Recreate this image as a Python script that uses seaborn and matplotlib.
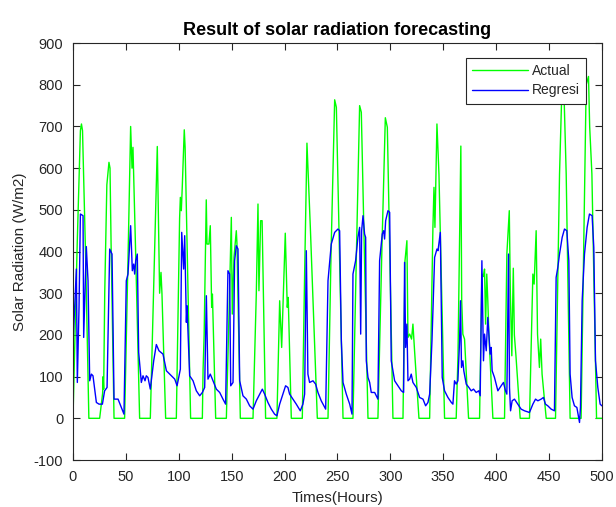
import matplotlib
matplotlib.use('Agg')
import matplotlib.pyplot as plt
import pandas as pd
import seaborn as sns

# Actual (green) - vertices: hour, W/m2
actual_hours = [0, 4, 7, 8, 9, 12, 15,
                25.2, 28, 28.5, 29, 30, 32, 34, 35, 36, 38.8,
                48.8, 52, 54.5, 55.8, 56.7, 59.2, 63,
                73.1, 77, 79.7, 81.3, 81.9, 83.2, 84.1, 87.6,
                97.7, 100.8, 101.5, 102.4, 103.3, 105.2, 106, 111.2,
                122.3, 123, 124, 126, 126.7, 128.5, 129.8, 131.1, 131.8, 134.9,
                145, 148, 149.7, 150.6, 152.2, 154.4, 155, 158.2,
                170.2, 172.7, 173.3, 174.9, 175.8, 177.4, 178.8, 182.1,
                192.8, 195.4, 197.3, 200.7, 202.6, 203.5, 206.4,
                216.8, 219, 221.2, 224.4, 231,
                241.1, 244, 247.4, 249, 255.3,
                264.7, 268, 271, 272.6, 278.9,
                288.3, 292, 295.3, 297.2, 302.5,
                312, 313.9, 315.7, 316.7, 318.3, 320.1, 321.4, 323, 327.1,
                337.2, 340.3, 341.3, 342.2, 344.1, 346, 351.3,
                362.3, 364, 366.7, 367.5, 368.6, 370.2, 374,
                384.4, 386.6, 388, 389.1, 390.1, 391.2, 392.2, 393.2, 394.4, 397,
                408, 410.2, 412.5, 413.5, 414.9, 416.3, 417.3, 418.8, 422.8,
                431.6, 434.8, 436, 437.9, 439.2, 441, 442.2, 443.5, 447.4,
                456.2, 460, 462.2, 464, 466.3, 470,
                480.4, 485.2, 487.4, 488.5, 490.6, 495, 500]
actual_values = [0, 420, 690, 706, 690, 380, 0,
                 0, 60, 100, 70, 300, 560, 614, 600, 420, 0,
                 0, 380, 700, 600, 650, 400, 0,
                 0, 380, 652, 400, 300, 350, 300, 0,
                 0, 480, 530, 498, 554, 692, 650, 0,
                 0, 118, 200, 524, 418, 418, 462, 266, 298, 0,
                 0, 300, 482, 250, 386, 450, 420, 0,
                 0, 242, 298, 514, 306, 474, 474, 0,
                 0, 282, 170, 444, 266, 290, 0,
                 0, 346, 660, 458, 0,
                 0, 400, 764, 746, 0,
                 0, 400, 750, 734, 0,
                 0, 400, 721, 698, 0,
                 0, 378, 426, 194, 202, 190, 226, 160, 0,
                 0, 458, 554, 458, 706, 586, 0,
                 0, 150, 653, 283, 202, 190, 0,
                 0, 346, 340, 358, 226, 346, 282, 202, 138, 0,
                 0, 394, 498, 300, 150, 360, 200, 150, 0,
                 0, 346, 322, 450, 202, 122, 190, 106, 0,
                 0, 586, 786, 800, 586, 0,
                 0, 800, 820, 700, 586, 0, 0]

# Regresi (blue)
regresi_hours = [0, 3.2, 4.1, 5.7, 7, 9.5, 10.1, 12.6, 14.2, 15.8, 17.4, 18.9, 22.1, 24.6,
                 27.8, 29.9, 32.2, 34.7, 36.9, 38.8, 42.6, 45.7, 48.2, 50.4, 52, 54.5, 56.1,
                 57.4, 58.3, 59.3, 60.8, 62.1, 64.6, 66.2, 68.1, 69.3, 70.9, 73.1, 76.3, 78.8,
                 81.3, 85.1, 88.3, 93, 96.2, 98.4, 101.5, 102.8, 104.6, 105.6, 107.2, 107.8,
                 110.3, 113.5, 116.6, 119.8, 122.3, 124.5, 126.1, 127.6, 129.8, 132.4, 135.5,
                 138.7, 141.8, 144.3, 146.5, 148.1, 149.1, 151.3, 152.8, 154.4, 156, 157.6,
                 160.7, 163.9, 167, 170.2, 173.3, 176.5, 179, 181.2, 184.3, 187.5, 190.6,
                 192.8, 195.4, 198.5, 201, 203.2, 204.8, 208, 211.1, 214.9, 217.4, 219,
                 220.6, 222.1, 223.7, 226.9, 229.4, 231.6, 234.7, 238.9, 241.1, 244.2, 247.4,
                 250.5, 252.1, 253.7, 255.3, 258.4, 261.6, 263.8, 264.7, 267.2, 269.4, 271,
                 272, 272.9, 274.2, 275.7, 276.7, 277.3, 278.9, 280.5, 282, 285.2, 288.3,
                 289.9, 292.4, 293.7, 294.6, 295.6, 297.8, 299.4, 300.9, 304.1, 307.2, 310.4,
                 312.6, 313.5, 314.5, 315.7, 316.7, 318.3, 319.8, 321.4, 324.6, 327.7, 330.9,
                 333.4, 335.6, 337.2, 339.4, 341.9, 344.1, 345.1, 347.3, 349.1, 351.3, 354.5,
                 357.7, 359.2, 360.7, 362.3, 363.9, 365.5, 366.4, 367.3, 368.6, 369.5, 371.8,
                 374.3, 376.5, 378.7, 381.2, 383.7, 385, 386.6, 388.1, 389.1, 390.7, 392.2,
                 393.2, 394.4, 395.4, 396.3, 398.5, 400.1, 401.7, 404.8, 407, 408.9, 410.2,
                 411.8, 412.7, 413.7, 415.2, 417.4, 420.6, 423.7, 426.9, 431.6, 434.8, 437.3,
                 439.5, 442.6, 444.8, 446.7, 448.9, 452.1, 455.2, 456.8, 458.4, 460, 462.5,
                 464.7, 466.9, 468.8, 470, 471.9, 474.1, 476.4, 478.9, 479.8, 481.4, 483.6,
                 486.1, 488.3, 490.8, 492.4, 494, 496.2, 498.4, 500]
regresi_values = [178, 358, 86, 266, 490, 486, 194, 412, 330, 90, 106, 102, 38, 34,
                  34, 66, 74, 406, 394, 46, 46, 26, 10, 330, 346, 462, 354,
                  370, 346, 378, 394, 158, 86, 102, 90, 102, 98, 70, 138, 177,
                  162, 154, 114, 102, 94, 78, 118, 446, 358, 438, 230, 270,
                  102, 90, 66, 54, 62, 74, 294, 94, 106, 90, 70,
                  62, 46, 34, 354, 346, 78, 86, 378, 414, 406, 90,
                  54, 46, 30, 22, 42, 58, 70, 58, 38, 22, 10,
                  6, 34, 58, 78, 74, 58, 46, 34, 18, 34, 58,
                  402, 106, 86, 90, 82, 62, 42, 22, 330, 418, 446,
                  454, 450, 186, 86, 58, 34, 10, 346, 378, 434, 458,
                  202, 450, 486, 442, 434, 138, 98, 86, 62, 62, 46,
                  378, 442, 450, 430, 474, 498, 494, 138, 90, 78, 66,
                  62, 374, 170, 226, 90, 94, 106, 86, 74, 50, 46,
                  30, 38, 58, 186, 386, 406, 402, 446, 98, 66, 50,
                  38, 34, 90, 82, 90, 186, 282, 122, 138, 114, 82,
                  74, 66, 70, 62, 66, 54, 378, 138, 202, 162, 242,
                  202, 154, 170, 114, 98, 82, 66, 78, 86, 66, 58,
                  394, 74, 18, 42, 46, 34, 22, 18, 14, 34, 46,
                  42, 46, 50, 34, 30, 22, 18, 338, 362, 394, 434,
                  454, 450, 378, 106, 50, 30, 26, -10, 26, 282, 394,
                  458, 490, 486, 410, 138, 74, 34, 30]

actual_df = pd.DataFrame({'Hours': actual_hours, 'Radiation': actual_values})
regresi_df = pd.DataFrame({'Hours': regresi_hours, 'Radiation': regresi_values})

sns.set_style('ticks')
plt.rcParams['font.family'] = ['Liberation Sans', 'DejaVu Sans']
plt.rcParams['axes.unicode_minus'] = False
plt.rcParams['xtick.direction'] = 'in'
plt.rcParams['ytick.direction'] = 'in'
plt.rcParams['xtick.top'] = True
plt.rcParams['ytick.right'] = True

fig = plt.figure(figsize=(6.16, 5.07), dpi=100)
ax = fig.add_axes([0.1185, 0.0927, 0.8585, 0.8223])

dark = '#262626'
sns.lineplot(data=actual_df, x='Hours', y='Radiation', color='#00ff00', linewidth=1.0,
             estimator=None, sort=False, label='Actual', ax=ax)
sns.lineplot(data=regresi_df, x='Hours', y='Radiation', color='#0000ff', linewidth=1.0,
             estimator=None, sort=False, label='Regresi', ax=ax)

ax.set_xlim(0, 500)
ax.set_ylim(-100, 900)
ax.set_xticks(range(0, 501, 50))
ax.set_yticks(range(-100, 901, 100))
ax.tick_params(labelsize=10.5, colors=dark, length=5, width=0.8)
ax.tick_params(axis='x', pad=7)
ax.tick_params(axis='y', pad=7)
for s in ax.spines.values():
    s.set_color(dark)
    s.set_linewidth(0.8)
    s.set_visible(True)

ax.set_xlabel('Times(Hours)', fontsize=11, color=dark, labelpad=5)
ax.set_ylabel('Solar Radiation (W/m2)', fontsize=11, color=dark, labelpad=5)
ax.set_title('Result of solar radiation forecasting', fontsize=13, fontweight='bold',
             color='black', pad=6)

leg = ax.legend(loc='upper right', bbox_to_anchor=(0.97, 0.965), fontsize=10,
                frameon=True, fancybox=False, handlelength=4.0, borderpad=0.45,
                labelspacing=0.4, handletextpad=0.3, borderaxespad=0)
leg.get_frame().set_edgecolor(dark)
leg.get_frame().set_linewidth(0.8)
leg.get_frame().set_alpha(1)

fig.savefig('out.png', dpi=100)
